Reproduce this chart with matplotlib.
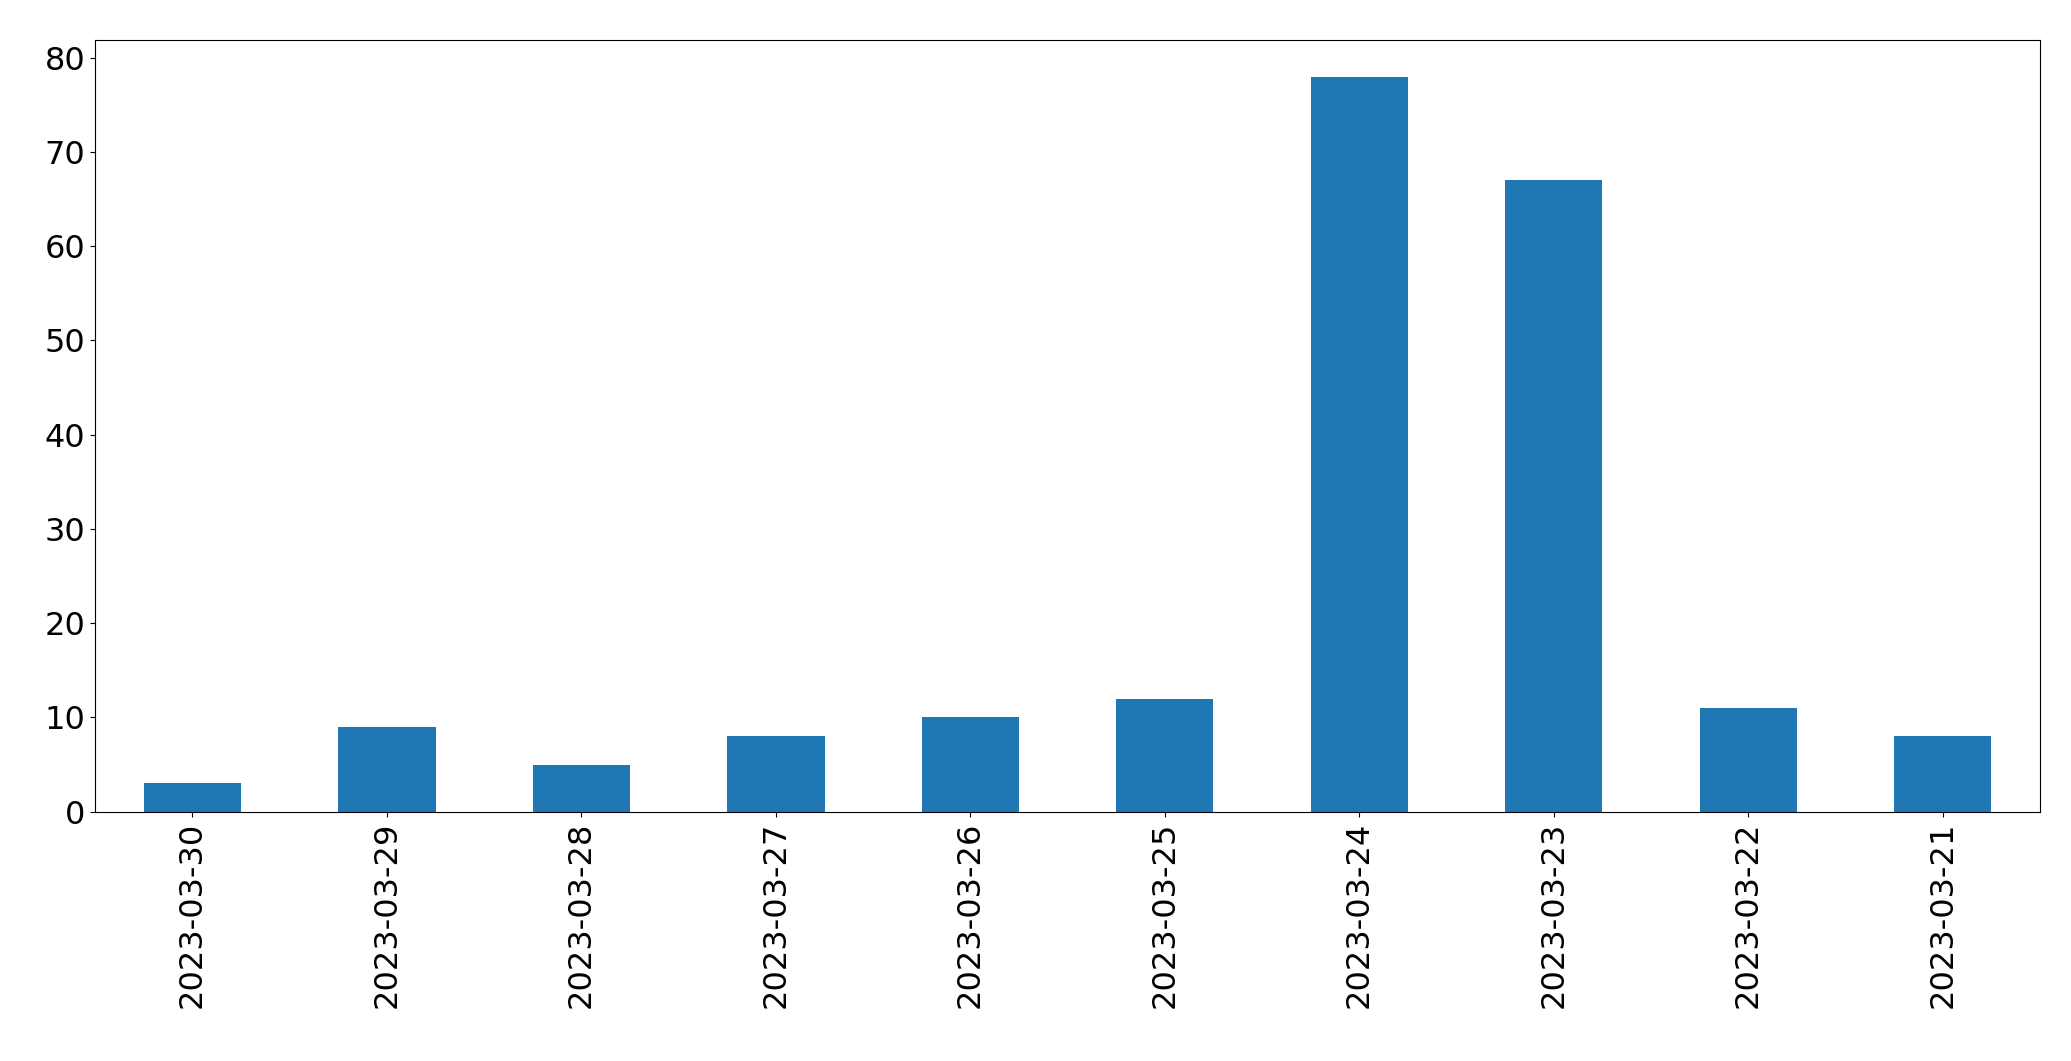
import matplotlib.pyplot as plt

dates = ['2023-03-30', '2023-03-29', '2023-03-28', '2023-03-27', '2023-03-26',
         '2023-03-25', '2023-03-24', '2023-03-23', '2023-03-22', '2023-03-21']
counts = [3, 9, 5, 8, 10, 12, 78, 67, 11, 8]

fig = plt.figure(figsize=(20.71, 10.61), dpi=100)
ax = fig.add_axes([0.046, 0.235, 0.939, 0.7275])
x = range(len(dates))
ax.bar(x, counts, width=0.5, color='#1f77b4')
ax.set_xticks(list(x))
ax.set_xticklabels(dates, rotation=90)
ax.set_xlim(-0.5, len(dates) - 0.5)
ax.tick_params(labelsize=23)
fig.savefig('out.png')
